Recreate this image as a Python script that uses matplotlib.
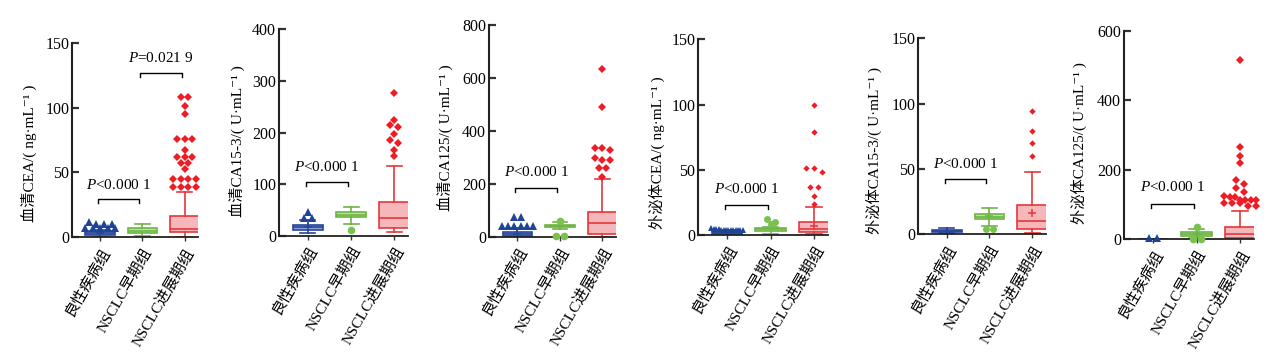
import numpy as np
import matplotlib
matplotlib.use("Agg")
import matplotlib.pyplot as plt
from matplotlib.transforms import ScaledTranslation

plt.rcParams['font.family'] = ['Liberation Serif', 'Noto Sans CJK SC', 'DejaVu Serif']
plt.rcParams['mathtext.fontset'] = 'custom'
plt.rcParams['mathtext.rm'] = 'Liberation Serif'
plt.rcParams['mathtext.it'] = 'Liberation Serif:italic'

# ---------------- data ----------------
groups = ['良性疾病组', 'NSCLC早期组', 'NSCLC进展期组']

ylabels = ['血清CEA/( ng·mL⁻¹ )', '血清CA15-3/( U·mL⁻¹ )', '血清CA125/( U·mL⁻¹ )',
           '外泌体CEA/( ng·mL⁻¹ )', '外泌体CA15-3/( U·mL⁻¹ )', '外泌体CA125/( U·mL⁻¹ )']

yticks = [[0, 50, 100, 150], [0, 100, 200, 300, 400], [0, 200, 400, 600, 800],
          [0, 50, 100, 150], [0, 50, 100, 150], [0, 200, 400, 600]]

# box stats per group: (whislo, q1, median, q3, whishi)
boxes = [
    [(0.5, 2.0, 3.0, 4.5, 6.0), (1.0, 3.0, 5.0, 7.0, 10.0), (0.5, 3.9, 6.2, 16.2, 34.7)],
    [(5.0, 11.0, 16.0, 21.0, 30.0), (22.0, 35.5, 41.0, 46.5, 56.0), (8.0, 15.5, 33.6, 66.0, 136.0)],
    [(0.5, 3.0, 10.0, 20.0, 33.0), (30.0, 36.0, 41.0, 45.0, 58.0), (1.0, 10.0, 53.0, 93.0, 218.0)],
    [(0.3, 1.0, 1.5, 2.5, 3.5), (1.0, 3.3, 4.5, 5.6, 6.5), (0.8, 2.0, 4.8, 9.7, 21.4)],
    [(1.0, 2.0, 2.8, 3.6, 4.5), (6.0, 11.5, 13.5, 15.3, 20.5), (1.3, 3.8, 10.5, 22.2, 47.7)],
    [(0.0, 0.5, 1.0, 1.5, 2.0), (5.0, 10.5, 15.0, 20.0, 29.0), (1.0, 3.0, 15.4, 34.6, 81.7)],
]

fliers = [
    [[12, 10, 10, 10, 7, 7, 7, 7, 7], [],
     [108, 108, 101, 95, 76, 76, 76, 67, 62, 62, 62, 57, 57, 53, 45, 45, 45, 45, 38.5, 38.5, 38.5, 38.5]],
    [[35, 35, 45], [11], [276, 224, 215, 211, 197, 185, 180, 167, 155]],
    [[77, 77, 42, 42, 42, 42, 42, 42], [62, 4, 4], [634, 492, 336, 336, 330, 297, 291, 291, 262, 262, 225]],
    [[5.0, 4.8, 4.5, 4.3, 4.2, 4.0, 4.0, 3.9, 3.8, 3.8, 3.7, 3.7, 3.6, 3.6], [12.5, 10.0, 8.5],
     [100, 79, 51, 51, 48, 37, 37, 30, 24]],
    [[], [4.2, 4.2], [94, 79, 70, 60]],
    [[3, 3], [36, 1, 1],
     [516, 267, 241, 220, 171, 160, 148, 137, 124, 121, 121, 113, 113, 113, 113, 104, 104, 104, 95, 95]],
]

means = [[3.0, None, None], [16.0, None, None], [12.0, 41.0, None],
         [None, None, 7.0], [2.8, 14.0, 16.0], [None, 15.0, None]]

# significance annotations: (group i, group j, text)
pvals = [[(0, 1, '$P$<0.000 1'), (1, 2, '$P$=0.021 9')],
         [(0, 1, '$P$<0.000 1')], [(0, 1, '$P$<0.000 1')], [(0, 1, '$P$<0.000 1')],
         [(0, 1, '$P$<0.000 1')], [(0, 1, '$P$<0.000 1')]]

# ---------------- layout / style ----------------
W, H = 1285, 359
# axes in pixels: left, right, top, bottom
ax_px = [(72, 198, 42.7, 237.3), (279, 408, 29.3, 235.7), (489, 616, 25, 237),
         (698, 828, 39.3, 235), (918, 1046, 38.3, 234.3), (1124, 1254, 31, 239.3)]
# ylabel: right-edge offset from axis (px), vertical center (px)
ylab_px = [(35, 153), (34, 141.5), (36, 138), (33, 153), (36, 150), (37, 143)]
# bracket level and text level (data units), one per annotation
bracket_y = [[(29.3, 40), (126.4, 138)], [(103.4, 134)], [(186, 244)], [(23, 35.4)],
             [(42.6, 54)], [(102, 150)]]

edge_cols = ['#27469a', '#6db544', '#e5383b']
fill_cols = ['#8ea2d8', '#badfa6', '#f5b7b9']
mark_cols = ['#1e4497', '#7ac152', '#ee1c25']
markers = ['^', 'o', 'D']
big_ms = [5.5, 5.5, 4.5]
small_ms = [5.0, 5.0, 3.2]


def swarm_offsets(vals, tol, step, maxw):
    vals = np.asarray(vals, dtype=float)
    offs = np.zeros(len(vals))
    order = np.argsort(-vals, kind='stable')
    rows = []
    for idx in order:
        if rows and abs(vals[rows[-1][0]] - vals[idx]) <= tol:
            rows[-1].append(idx)
        else:
            rows.append([idx])
    for r in rows:
        n = len(r)
        s = step if (n - 1) * step <= maxw else maxw / (n - 1)
        for k, idx in enumerate(r):
            offs[idx] = (k - (n - 1) / 2) * s
    return offs


fig = plt.figure(figsize=(W / 100, H / 100), dpi=100)
xlab_shift = ScaledTranslation(6 / 100, -3 / 100, fig.dpi_scale_trans)

for p in range(6):
    l, r, t, b = ax_px[p]
    ax = fig.add_axes([l / W, 1 - b / H, (r - l) / W, (b - t) / H])
    ymax = yticks[p][-1]
    ax.set_xlim(-0.67, 2.32)
    ax.set_ylim(0, ymax)
    px_per_unit = (b - t) / ymax
    ms_list = small_ms if p in (3, 4) else big_ms

    for g in range(3):
        wl, q1, md, q3, wh = boxes[p][g]
        m = means[p][g]
        st = dict(whislo=wl, q1=q1, med=md, q3=q3, whishi=wh, fliers=[],
                  mean=(m if m is not None else md))
        ax.bxp([st], positions=[g], widths=0.7, capwidths=0.35, patch_artist=True,
               showfliers=False, showmeans=m is not None,
               boxprops=dict(facecolor=fill_cols[g], edgecolor=edge_cols[g], linewidth=1.2),
               medianprops=dict(color=edge_cols[g], linewidth=1.2),
               whiskerprops=dict(color=edge_cols[g], linewidth=1.2),
               capprops=dict(color=edge_cols[g], linewidth=1.2),
               meanprops=dict(marker='+', markeredgecolor=edge_cols[g], markersize=6,
                              markeredgewidth=1.1))
        fv = fliers[p][g]
        if fv:
            offs = swarm_offsets(fv, 4.0 / px_per_unit, 0.18, 0.72)
            ax.plot(g + offs, fv, linestyle='none', marker=markers[g],
                    markersize=ms_list[g], color=mark_cols[g], markeredgewidth=0,
                    clip_on=False, zorder=4)

    # significance brackets
    for (i, j, txt), (by, ty) in zip(pvals[p], bracket_y[p]):
        drop = 4.0 / px_per_unit
        x0, x1 = i - 0.05, j - 0.07
        ax.plot([x0, x0, x1, x1], [by - drop, by, by, by - drop], color='black',
                linewidth=1.0, clip_on=False)
        ax.text((x0 + x1) / 2, ty, txt, ha='center', va='center', fontsize=11,
                color='black')

    for s in ('top', 'right'):
        ax.spines[s].set_visible(False)
    ax.spines['left'].set_linewidth(1.5)
    ax.spines['bottom'].set_linewidth(1.3)
    ax.spines['left'].set_color('#222222')
    ax.spines['bottom'].set_color('#222222')

    ax.set_yticks(yticks[p])
    ax.set_yticklabels([str(v) for v in yticks[p]])
    ax.tick_params(axis='y', direction='in', length=5, width=1.6, labelsize=11.5,
                   pad=2, color='#333333')
    ax.set_xticks(range(3))
    ax.set_xticklabels(groups, rotation=60, ha='right', va='top',
                       rotation_mode='anchor', fontsize=11)
    for lab in ax.get_xticklabels():
        lab.set_transform(lab.get_transform() + xlab_shift)
    ax.tick_params(axis='x', direction='out', length=3, width=1.0, pad=3, color='#333333')

    off, cy = ylab_px[p]
    ax.set_ylabel(ylabels[p], fontsize=11)
    ax.yaxis.set_label_coords(-off / (r - l), (b - cy) / (b - t))

fig.savefig('out.png', dpi=100)
